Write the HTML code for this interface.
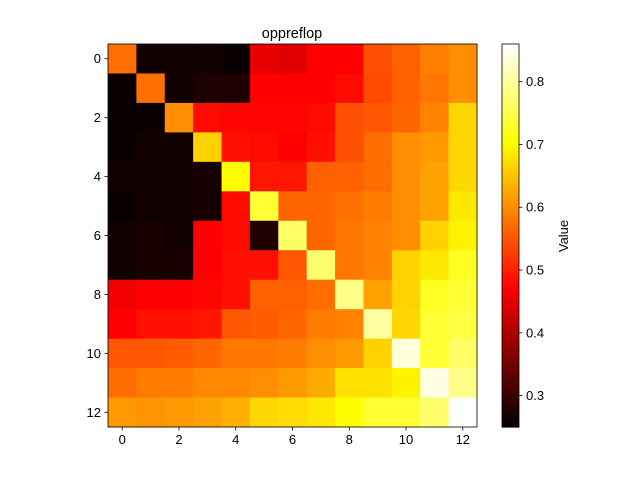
<!DOCTYPE html>
<html><head><meta charset="utf-8"><style>
body{margin:0;background:#fff}
svg text{font-family:"Liberation Sans",sans-serif;font-size:13px;fill:#000}
</style></head><body>
<svg id="chart" width="640" height="480" xmlns="http://www.w3.org/2000/svg">
<rect width="640" height="480" fill="#fff"/>
<g id="cells"></g>
<g id="cbar"></g>
<g id="axes"></g>
<text x="292" y="38" text-anchor="middle" style="font-size:14.5px">oppreflop</text>
<text transform="translate(568,236) rotate(-90)" text-anchor="middle">Value</text>
</svg>
<script>
const values = [
[0.575,0.265,0.265,0.262,0.26,0.451,0.446,0.472,0.472,0.545,0.56,0.589,0.602],
[0.26,0.575,0.265,0.276,0.276,0.472,0.472,0.472,0.482,0.54,0.56,0.581,0.602],
[0.26,0.26,0.602,0.482,0.477,0.477,0.477,0.482,0.545,0.551,0.566,0.592,0.669],
[0.26,0.265,0.265,0.664,0.487,0.482,0.472,0.487,0.545,0.571,0.602,0.612,0.669],
[0.265,0.265,0.265,0.27,0.705,0.493,0.493,0.56,0.56,0.571,0.602,0.619,0.669],
[0.26,0.265,0.265,0.27,0.482,0.736,0.566,0.566,0.576,0.586,0.602,0.619,0.684],
[0.265,0.272,0.265,0.472,0.482,0.278,0.767,0.566,0.581,0.592,0.602,0.664,0.695],
[0.265,0.272,0.272,0.472,0.487,0.487,0.551,0.772,0.581,0.592,0.664,0.684,0.726],
[0.462,0.472,0.472,0.477,0.487,0.56,0.56,0.571,0.788,0.619,0.664,0.726,0.736],
[0.472,0.487,0.487,0.493,0.551,0.556,0.566,0.586,0.592,0.803,0.669,0.736,0.746],
[0.551,0.551,0.556,0.566,0.581,0.581,0.586,0.602,0.612,0.664,0.839,0.736,0.767],
[0.571,0.586,0.586,0.597,0.597,0.602,0.612,0.628,0.679,0.679,0.695,0.844,0.788],
[0.612,0.607,0.612,0.619,0.633,0.669,0.674,0.684,0.705,0.736,0.736,0.772,0.86]
];
const xTicks = [0,2,4,6,8,10,12];
const yTicks = [0,2,4,6,8,10,12];
const cbTicks = [0.3,0.4,0.5,0.6,0.7,0.8];
const vmin = 0.25, vmax = 0.86;

const NS="http://www.w3.org/2000/svg";
const L=108,T=44,W=369,H=383,n=values.length,cw=W/n,ch=H/n;
const CBX=502,CBW=17;
function hot(v){
  let t=Math.max(0,Math.min(1,(v-vmin)/(vmax-vmin)));
  const r=Math.min(1,t/0.365079), g=Math.max(0,Math.min(1,(t-0.365079)/(0.746032-0.365079))), b=Math.max(0,Math.min(1,(t-0.746032)/(1-0.746032)));
  return `rgb(${Math.round(r*255)},${Math.round(g*255)},${Math.round(b*255)})`;
}
const xs=i=>L+(i+0.5)*cw, ys=j=>T+(j+0.5)*ch, cy=v=>T+H-(v-vmin)/(vmax-vmin)*H;
function mk(tag,attrs,parent){const e=document.createElementNS(NS,tag);for(const k in attrs)e.setAttribute(k,attrs[k]);parent.appendChild(e);return e;}
const cells=document.getElementById('cells'),cbar=document.getElementById('cbar'),axes=document.getElementById('axes');
values.forEach((row,j)=>row.forEach((v,i)=>{
  const r=mk('rect',{x:L+i*cw,y:T+j*ch,width:cw+0.5,height:ch+0.5,fill:hot(v)},cells);
  
  
}));
for(let k=0;k<200;k++){
  const v0=vmin+(vmax-vmin)*k/200, v1=vmin+(vmax-vmin)*(k+1)/200;
  const r=mk('rect',{x:CBX,y:cy(v1),width:CBW,height:cy(v0)-cy(v1)+0.6,fill:hot((v0+v1)/2)},cbar);
  
  
}
mk('rect',{x:CBX,y:T,width:CBW,height:H,fill:'none',stroke:'#000','stroke-width':0.8},cbar);
mk('rect',{x:L,y:T,width:W,height:H,fill:'none',stroke:'#000','stroke-width':0.8},axes);
xTicks.forEach(t=>{
  mk('line',{x1:xs(t),x2:xs(t),y1:T+H,y2:T+H+3.5,stroke:'#000','stroke-width':0.8},axes);
  const e=mk('text',{x:xs(t),y:T+H+17,'text-anchor':'middle'},axes);e.textContent=t;
  
  
});
yTicks.forEach(t=>{
  mk('line',{x1:L-3.5,x2:L,y1:ys(t),y2:ys(t),stroke:'#000','stroke-width':0.8},axes);
  const e=mk('text',{x:L-7,y:ys(t)+4.5,'text-anchor':'end'},axes);e.textContent=t;
  
  
});
cbTicks.forEach(t=>{
  mk('line',{x1:CBX+CBW,x2:CBX+CBW+3.5,y1:cy(t),y2:cy(t),stroke:'#000','stroke-width':0.8},cbar);
  const e=mk('text',{x:CBX+CBW+7,y:cy(t)+4.5},cbar);e.textContent=t.toFixed(1);
  
  
});
</script>
</body></html>
